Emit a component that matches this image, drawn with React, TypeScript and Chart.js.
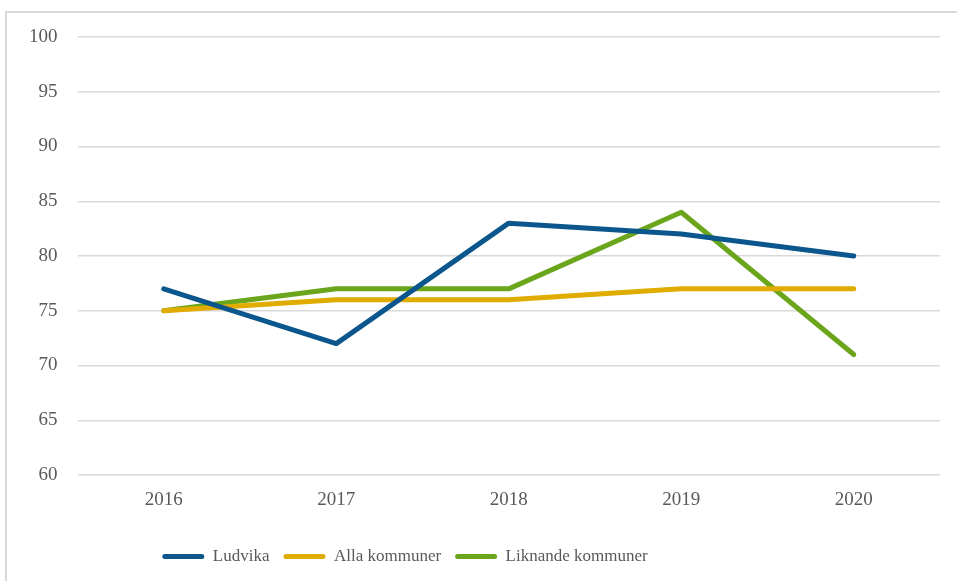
import React, { useEffect, useRef } from "react";
import { Chart, registerables } from "chart.js";

Chart.register(...registerables);

const years = ["2016", "2017", "2018", "2019", "2020"];
const ludvika = [77, 72, 83, 82, 80];
const allaKommuner = [75, 76, 76, 77, 77];
const liknandeKommuner = [75, 77, 77, 84, 71];

export default function App() {
  const ref = useRef<HTMLCanvasElement>(null);

  useEffect(() => {
    if (!ref.current) return;
    const font = "'Liberation Serif', 'Times New Roman', serif";
    const shiftLegend = {
      id: "shiftLegend",
      afterLayout: (chart: any) => {
        if (chart.legend) chart.legend.right -= 130;
      },
    };
    const chart = new Chart(ref.current, {
      type: "line",
      data: {
        labels: years,
        datasets: [
          { label: "Ludvika", data: ludvika, borderColor: "#0B568C", backgroundColor: "#0B568C" },
          { label: "Alla kommuner", data: allaKommuner, borderColor: "#E0AC00", backgroundColor: "#E0AC00" },
          { label: "Liknande kommuner", data: liknandeKommuner, borderColor: "#6BA51C", backgroundColor: "#6BA51C" },
        ].map((d) => ({
          ...d,
          borderWidth: 5,
          pointRadius: 0,
          tension: 0,
          borderCapStyle: "round" as const,
          borderJoinStyle: "round" as const,
        })),
      },
      plugins: [shiftLegend],
      options: {
        animation: false,
        responsive: false,
        layout: { padding: { left: 0, right: 17, top: 37, bottom: 6 } },
        plugins: {
          legend: {
            position: "bottom",
            labels: {
              boxWidth: 42,
              boxHeight: 5,
              color: "#595959",
              font: { family: font, size: 17 },
              padding: 14,
              useBorderRadius: true,
              borderRadius: 2.5,
              generateLabels: (c: any) =>
                Chart.defaults.plugins.legend.labels.generateLabels(c).map((l: any) => ({
                  ...l,
                  lineWidth: 0,
                  strokeStyle: "rgba(0,0,0,0)",
                })),
            },
          },
          tooltip: { enabled: false },
        },
        scales: {
          x: {
            offset: true,
            grid: { display: false, drawTicks: false },
            border: { display: false },
            ticks: { color: "#595959", font: { family: font, size: 19 }, padding: 14 },
            afterFit: (s: any) => {
              s.height = 59;
            },
          },
          y: {
            min: 60,
            max: 100,
            ticks: { stepSize: 5, color: "#595959", font: { family: font, size: 19 }, padding: 20 },
            grid: { color: "#d9d9d9", lineWidth: 1.5, drawTicks: false },
            border: { display: false },
            afterFit: (s: any) => {
              s.width = 77.5;
            },
          },
        },
      },
    });
    return () => chart.destroy();
  }, []);

  return (
    <div style={{ position: "absolute", left: 0, top: 0, width: 957, height: 581, overflow: "hidden", background: "#fff" }}>
      <div
        style={{
          position: "absolute",
          left: 5,
          top: 11,
          width: 1000,
          height: 1000,
          border: "2px solid #d9d9d9",
          boxSizing: "border-box",
        }}
      />
      <canvas ref={ref} width={957} height={581} style={{ position: "absolute", left: 0, top: 0 }} />
    </div>
  );
}
